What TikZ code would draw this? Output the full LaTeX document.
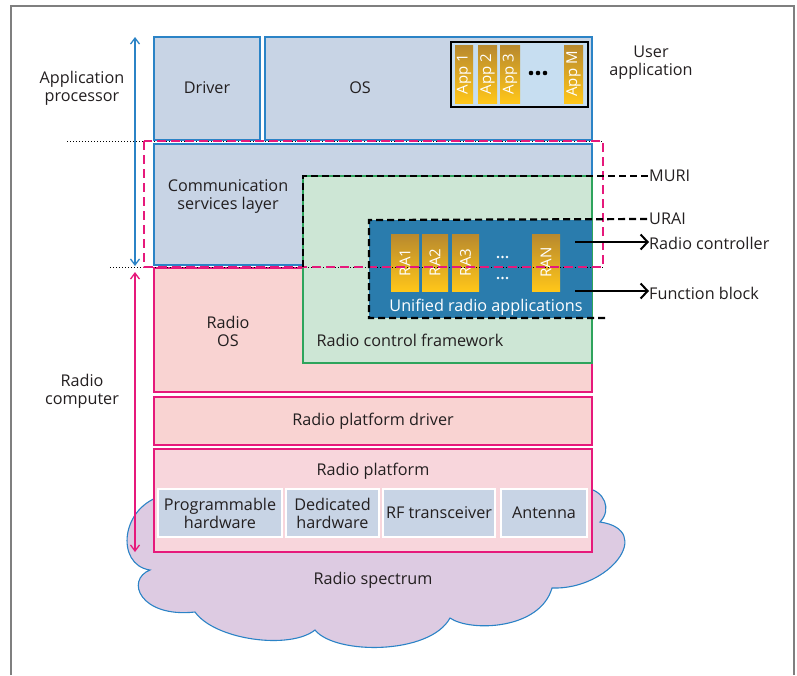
\documentclass[tikz,border=0pt]{standalone}
\usepackage{fontspec}
\setmainfont{Open Sans}
\usetikzlibrary{arrows.meta}
\definecolor{txt}{HTML}{231F20}
\definecolor{apblue}{HTML}{C8D4E5}
\definecolor{apline}{HTML}{2B83C6}
\definecolor{rpink}{HTML}{F9D3D2}
\definecolor{rline}{HTML}{E6197B}
\definecolor{pfpink}{HTML}{F8D6DC}
\definecolor{rcgreen}{HTML}{CDE6D5}
\definecolor{rcline}{HTML}{2EA45C}
\definecolor{urablue}{HTML}{2A7CAD}
\definecolor{appbg}{HTML}{C7DEF1}
\definecolor{golddark}{HTML}{B8892E}
\definecolor{goldlight}{HTML}{FFC619}
\definecolor{cloudfill}{HTML}{DDCBE2}
\definecolor{framegray}{HTML}{7F7F7F}
\begin{document}
\begin{tikzpicture}[x=1pt,y=-1pt,
  every node/.style={text=txt,font=\fontsize{16.2}{19}\selectfont,align=center,inner sep=0pt},
  apbox/.style={fill=apblue,draw=apline,line width=1.2pt},
  rbox/.style={fill=rpink,draw=rline,line width=1.4pt},
  hwbox/.style={fill=apblue,draw=white,line width=2.5pt},
  gold/.style={top color=golddark,bottom color=goldlight},
  bartxt/.style={rotate=90,text=white,font=\fontsize{15}{17}\selectfont},
  blkdash/.style={dash pattern=on 7pt off 4pt,line width=2.2pt},
  pointer/.style={line width=2pt,-{Straight Barb[length=7pt,width=15pt]}},
  span/.style={line width=1.3pt,{Straight Barb[length=6pt,width=9pt]}-{Straight Barb[length=6pt,width=9pt]}}]
\useasboundingbox (0,0) rectangle (797,675);
\draw[framegray,line width=1.3pt] (11,675)--(11,6)--(794,6)--(794,675);
% radio spectrum
\draw[apline,fill=cloudfill,line width=1.1pt] (165,495) .. controls (120,505) and (115,565) .. (150,570)
  .. controls (125,580) and (140,618) .. (195,612)
  .. controls (215,640) and (290,650) .. (315,630)
  .. controls (335,655) and (430,655) .. (450,618)
  .. controls (470,632) and (540,630) .. (552,588)
  .. controls (610,590) and (655,530) .. (600,522)
  .. controls (612,510) and (605,490) .. (585,488) -- cycle;
% application processor
\filldraw[apbox] (154,37) rectangle (260,140);
\filldraw[apbox] (265,37) rectangle (592,140);
\filldraw[fill=appbg,draw=black,line width=2.4pt] (451,42) rectangle (588,107);
\foreach \x/\w/\t in {455/18/App 1,478/19/App 2,500/20/App 3,564/19/App M}{
  \shade[gold] (\x,45) rectangle (\x+\w,103);
  \node[bartxt] at (\x+\w/2,74) {\t};
}
\foreach \x in {531,538,545} \fill[black] (\x,73) circle (2.3);
\filldraw[apbox] (154,144) rectangle (592,265);
% radio computer
\filldraw[rbox] (154,268) rectangle (592,392);
\filldraw[fill=rcgreen,draw=rcline,line width=1.1pt] (303,176) rectangle (592,363);
\fill[urablue] (369,220) rectangle (592,318);
\foreach \x/\w/\t in {391/28/RA1,422/26/RA2,452/27/RA3,532/28/RAN}{
  \shade[gold] (\x,234) rectangle (\x+\w,291);
  \node[bartxt] at (\x+\w/2,262.5) {\t};
}
\foreach \x in {498,502.5,507}{
  \fill[white] (\x,257) circle (1.3);
  \fill[white] (\x,278) circle (1.3);
}
\filldraw[rbox] (154,397) rectangle (592,445);
\filldraw[rbox,fill=pfpink] (154,449) rectangle (592,552);
\filldraw[hwbox] (158,489) rectangle (282,537);
\filldraw[hwbox] (286,489) rectangle (379,537);
\filldraw[hwbox] (383,489) rectangle (495,537);
\filldraw[hwbox] (501,489) rectangle (587,537);
% interfaces
\draw[black,dotted,line width=1pt] (67,141) -- (603,141);
\draw[black,dotted,line width=1pt] (110,267) -- (603,267);
\draw[rline,line width=2.2pt,dash pattern=on 9pt off 5pt] (144,141) rectangle (603,267);
\node[anchor=west] (muri) at (649,176) {MURI};
\node[anchor=west] (urai) at (649,219) {URAI};
\draw[blkdash] (303,267) -- (303,176) -- (muri.west);
\draw[blkdash] (605,318) -- (369,318) -- (369,220) -- (urai.west);
% side arrows
\coordinate (aptop) at (135,37);
\coordinate (apbot) at (135,266);
\coordinate (rctop) at (135,272);
\coordinate (rcbot) at (135,552);
\draw[span,apline] (aptop) -- (apbot);
\draw[span,rline] (rctop) -- (rcbot);
\node (ap) at (82,88) {Application\\[-1pt]processor};
\node (rc) at (82,391) {Radio\\[-1pt]computer};
\node (ua) at (651,63) {User\\[-1pt]application};
\node (drv) at (207,88) {Driver};
\node (os) at (360,88) {OS};
\node (csl) at (228,196) {Communication\\[-1pt]services layer};
\node (ros) at (228,331) {Radio\\[-1pt]OS};
\node (rcf) at (410,340) {Radio control framework};
\node[text=white] (ura) at (486,307) {Unified radio applications};
\node (rpd) at (373,421) {Radio platform driver};
\node (rp) at (373,471) {Radio platform};
\node (ph) at (220,513) {Programmable\\[-1pt]hardware};
\node (dh) at (332.5,513) {Dedicated\\[-1pt]hardware};
\node (rf) at (439,513) {RF transceiver};
\node (ant) at (544,513) {Antenna};
\node (rs) at (373,580) {Radio spectrum};
\coordinate (ctlsrc) at (575,242);
\coordinate (fbsrc) at (575,291);
\node[anchor=west] (ctl) at (649,243) {Radio controller};
\node[anchor=west] (fb) at (649,293) {Function block};
\draw[pointer] (ctlsrc) -- (ctlsrc -| ctl.west);
\draw[pointer] (fbsrc) -- (fbsrc -| fb.west);
\end{tikzpicture}
\end{document}
